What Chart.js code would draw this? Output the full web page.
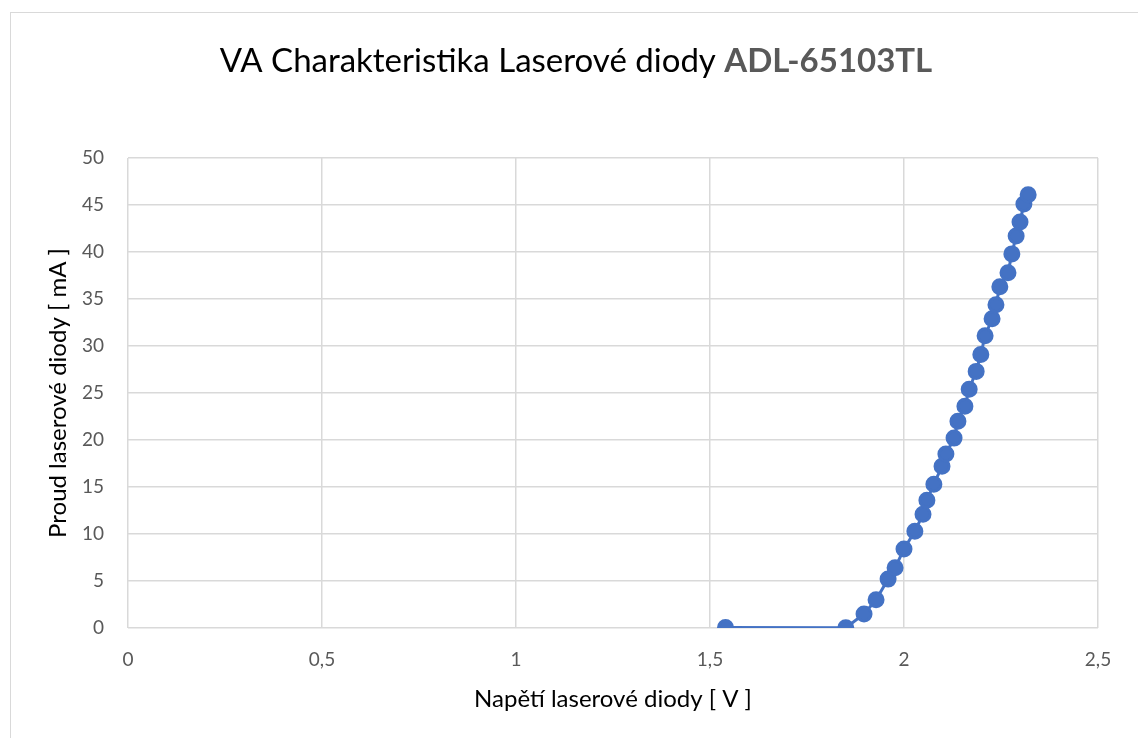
<!DOCTYPE html>
<html>
<head>
<meta charset="utf-8">
<script src="https://cdn.jsdelivr.net/npm/chart.js@4"></script>
<style>
  html, body { margin: 0; padding: 0; background: #fff; }
  #wrap { position: relative; width: 1138px; height: 738px; }
</style>
</head>
<body>
<div id="wrap"><canvas id="chart" width="1138" height="738"></canvas></div>
<script>
// measured VA characteristic of the laser diode
const voltage = [1.54, 1.85, 1.897, 1.928, 1.959, 1.977, 2.0, 2.028, 2.049, 2.059,
  2.077, 2.098, 2.108, 2.129, 2.139, 2.157, 2.168, 2.186, 2.198, 2.209,
  2.227, 2.237, 2.247, 2.268, 2.278, 2.289, 2.299, 2.309, 2.32];
const current = [0.05, 0.02, 1.5, 3.0, 5.2, 6.4, 8.4, 10.3, 12.1, 13.6,
  15.3, 17.2, 18.5, 20.2, 22.0, 23.6, 25.4, 27.3, 29.1, 31.1,
  32.9, 34.4, 36.3, 37.8, 39.8, 41.7, 43.2, 45.1, 46.1];
const titleMain = 'VA Charakteristika Laserové diody ';
const titleBold = 'ADL-65103TL';
const xLabel = 'Napětí laserové diody [ V ]';
const yLabel = 'Proud laserové diody [ mA ]';

const FONT = 'Lato, "Open Sans", sans-serif';
const points = voltage.map((v, i) => ({ x: v, y: current[i] }));

// title with two styles + thin frame like the office chart
const titlePlugin = {
  id: 'mixedTitle',
  beforeDraw(chart) {
    const ctx = chart.ctx;
    ctx.save();
    ctx.fillStyle = '#fff';
    ctx.fillRect(0, 0, chart.width, chart.height);
    ctx.strokeStyle = '#d9d9d9';
    ctx.lineWidth = 1;
    ctx.strokeRect(10.5, 12.5, chart.width, chart.height);
    ctx.restore();
  },
  afterDraw(chart) {
    const ctx = chart.ctx;
    ctx.save();
    ctx.textBaseline = 'middle';
    ctx.font = '33px ' + FONT;
    const w1 = ctx.measureText(titleMain).width;
    ctx.font = 'bold 33px ' + FONT;
    const w2 = ctx.measureText(titleBold).width;
    let x = 576 - (w1 + w2) / 2;
    ctx.font = '33px ' + FONT;
    ctx.fillStyle = '#000';
    ctx.fillText(titleMain, x, 61);
    ctx.font = 'bold 33px ' + FONT;
    ctx.fillStyle = '#595959';
    ctx.fillText(titleBold, x + w1, 61);
    ctx.restore();
  }
};

new Chart(document.getElementById('chart'), {
  type: 'scatter',
  data: {
    datasets: [{
      data: points,
      showLine: true,
      borderColor: '#4472c4',
      backgroundColor: '#4472c4',
      borderWidth: 3,
      pointRadius: 7,
      pointHoverRadius: 7,
      tension: 0
    }]
  },
  options: {
    responsive: false,
    animation: false,
    layout: { padding: { left: 0, top: 158, right: 40, bottom: 0 } },
    plugins: { legend: { display: false }, tooltip: { enabled: false } },
    scales: {
      x: {
        min: 0, max: 2.5,
        ticks: {
          stepSize: 0.5,
          color: '#595959',
          font: { family: FONT, size: 19 },
          padding: 20,
          callback: (v) => String(v).replace('.', ',')
        },
        grid: { color: '#d9d9d9', lineWidth: 1.5, drawTicks: false },
        border: { display: false },
        title: { display: true, text: xLabel, color: '#000', font: { family: FONT, size: 24 }, padding: { top: 0, bottom: 24 } },
        afterFit: (s) => { s.height = 110; }
      },
      y: {
        min: 0, max: 50,
        ticks: {
          stepSize: 5,
          color: '#595959',
          font: { family: FONT, size: 19 },
          padding: 24
        },
        grid: { color: '#d9d9d9', lineWidth: 1.5, drawTicks: false },
        border: { display: false },
        title: { display: true, text: yLabel, color: '#000', font: { family: FONT, size: 24 }, padding: { top: 44, bottom: 0 } },
        afterFit: (s) => { s.width = 128; }
      }
    }
  },
  plugins: [titlePlugin]
});
</script>
</body>
</html>
